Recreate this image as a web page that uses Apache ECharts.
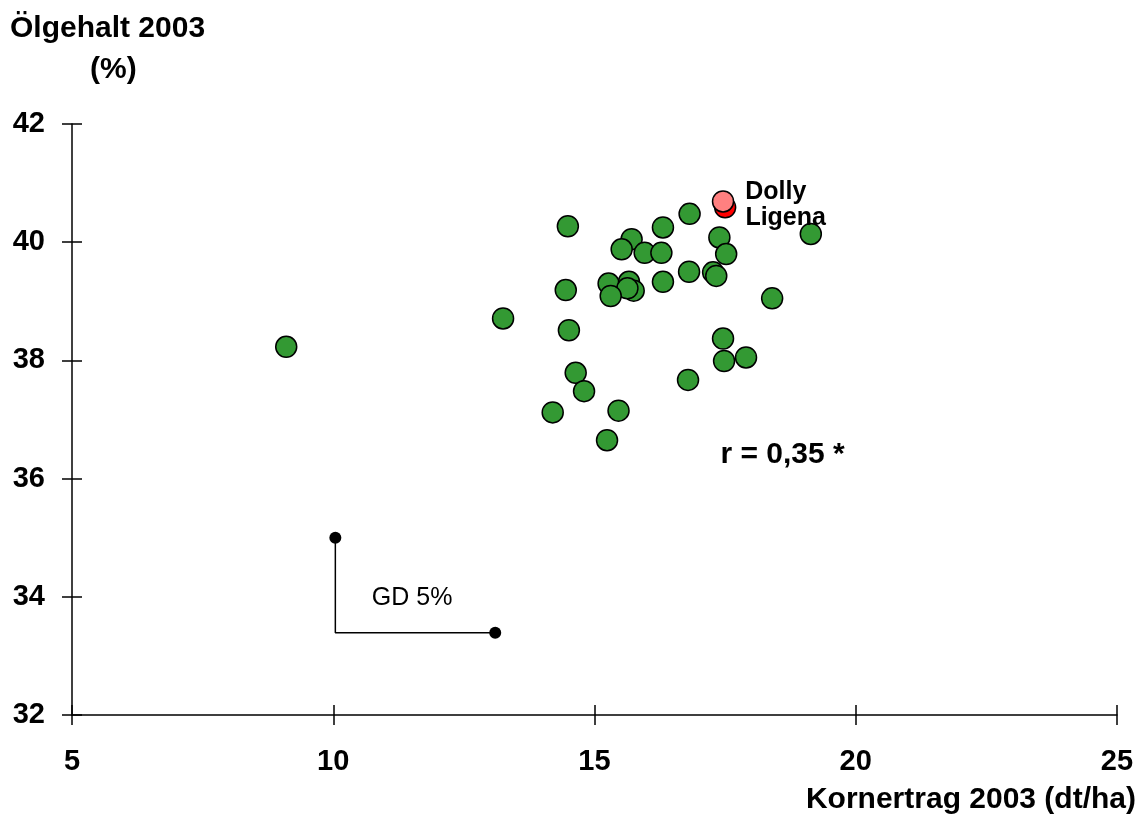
<!DOCTYPE html>
<html>
<head>
<meta charset="utf-8">
<title>Ölgehalt vs. Kornertrag 2003</title>
<script src="https://cdn.jsdelivr.net/npm/echarts@6/dist/echarts.min.js"></script>
<style>
  html, body { margin: 0; padding: 0; background: #fff; }
  #chart { width: 1144px; height: 818px; }
</style>
</head>
<body>
<div id="chart"></div>
<script>
var FONT = 'Arial, "Liberation Sans", sans-serif'

// Sorten: Kornertrag (dt/ha), Ölgehalt (%)
var yieldValues = [14.49, 16.82, 16.31, 19.14, 17.39, 15.71, 15.52, 15.96, 16.28, 17.52,
  16.81, 17.27, 17.33, 16.31, 15.27, 15.66, 15.75, 15.63, 15.31, 14.45,
  13.25, 18.40, 14.51, 17.46, 17.48, 17.90, 14.64, 16.79, 14.80, 14.20,
  15.46, 15.24, 9.10]
var oilValues = [40.27, 40.48, 40.25, 40.14, 40.08, 40.05, 39.88, 39.82, 39.82, 39.80,
  39.50, 39.49, 39.43, 39.33, 39.30, 39.33, 39.18, 39.22, 39.09, 39.19,
  38.71, 39.05, 38.51, 38.37, 37.99, 38.05, 37.79, 37.67, 37.48, 37.12,
  37.15, 36.65, 38.23]

// hervorgehobene Sorten
var highlightNames = ['Ligena', 'Dolly']
var highlightYield = [17.50, 17.46]
var highlightOil = [40.59, 40.69]

// GD 5% Winkel
var gdX = [10.04, 10.04, 13.10]
var gdY = [35.00, 33.39, 33.39]
var gdLabel = 'GD 5%'
var corrLabel = 'r = 0,35 *'

var xTicks = [5, 10, 15, 20, 25]
var yTicks = [32, 34, 36, 38, 40, 42]

var chart = echarts.init(document.getElementById('chart'))

var points = yieldValues.map(function (x, i) { return [x, oilValues[i]] })
var gdLine = gdX.map(function (x, i) { return [x, gdY[i]] })
var gdEnds = [gdLine[0], gdLine[gdLine.length - 1]]

function axisBase(ticks) {
  return {
    type: 'value',
    min: ticks[0],
    max: ticks[ticks.length - 1],
    interval: ticks[1] - ticks[0],
    splitLine: { show: false }
  }
}

var xMain = Object.assign(axisBase(xTicks), {
  position: 'bottom',
  axisLine: { onZero: false, lineStyle: { color: '#000', width: 1.5 } },
  axisTick: { length: 10, lineStyle: { color: '#000', width: 1.5 } },
  axisLabel: { color: '#000', fontFamily: FONT, fontWeight: 'bold', fontSize: 29, margin: 32 }
})
var xInner = Object.assign(axisBase(xTicks), {
  position: 'bottom',
  axisLine: { show: false },
  axisTick: { inside: true, length: 10, lineStyle: { color: '#000', width: 1.5 } },
  axisLabel: { show: false }
})
var yMain = Object.assign(axisBase(yTicks), {
  position: 'left',
  axisLine: { show: true, onZero: false, lineStyle: { color: '#000', width: 1.5 } },
  axisTick: { show: true, length: 10, lineStyle: { color: '#000', width: 1.5 } },
  axisLabel: { color: '#000', fontFamily: FONT, fontWeight: 'bold', fontSize: 29, margin: 27 }
})
var yInner = Object.assign(axisBase(yTicks), {
  position: 'left',
  axisLine: { show: false },
  axisTick: { show: true, inside: true, length: 10, lineStyle: { color: '#000', width: 1.5 } },
  axisLabel: { show: false }
})

var option = {
  animation: false,
  backgroundColor: '#fff',
  grid: { left: 72, right: 27, top: 124, bottom: 103 },
  xAxis: [xMain, xInner],
  yAxis: [yMain, yInner],
  graphic: [
    {
      type: 'text', left: 10, top: 14,
      style: { text: 'Ölgehalt 2003', font: 'bold 30px ' + FONT, fill: '#000' }
    },
    {
      type: 'text', left: 90, top: 55,
      style: { text: '(%)', font: 'bold 30px ' + FONT, fill: '#000' }
    },
    {
      type: 'text', right: 8, top: 785,
      style: { text: 'Kornertrag 2003 (dt/ha)', font: 'bold 30px ' + FONT, fill: '#000' }
    }
  ],
  series: [
    {
      type: 'line',
      data: gdLine,
      showSymbol: false,
      lineStyle: { color: '#000', width: 1.5 },
      z: 2
    },
    {
      type: 'scatter',
      data: gdEnds,
      symbolSize: 12,
      itemStyle: { color: '#000', opacity: 1 },
      z: 3
    },
    {
      type: 'scatter',
      data: points,
      symbolSize: 21,
      itemStyle: { color: '#339933', borderColor: '#000', borderWidth: 1.5, opacity: 1 },
      z: 4
    },
    {
      type: 'scatter',
      data: highlightNames.map(function (n, i) {
        return {
          name: n,
          value: [highlightYield[i], highlightOil[i]],
          itemStyle: { color: n === 'Dolly' ? '#ff8080' : '#ff0000' },
          label: n === 'Dolly' ? { offset: [0, -9], distance: 11 } : { offset: [0, 11], distance: 9 }
        }
      }),
      symbolSize: 21,
      itemStyle: { borderColor: '#000', borderWidth: 1.5, opacity: 1 },
      label: {
        show: true,
        position: 'right',
        formatter: '{b}',
        color: '#000',
        fontFamily: FONT,
        fontWeight: 'bold',
        fontSize: 25
      },
      z: 5
    },
    {
      type: 'scatter',
      data: [
        { value: [11.51, 33.98], name: gdLabel, label: { fontWeight: 'normal', fontSize: 25 } },
        { value: [18.60, 36.40], name: corrLabel, label: { fontWeight: 'bold', fontSize: 30 } }
      ],
      symbolSize: 0,
      silent: true,
      itemStyle: { opacity: 1 },
      label: {
        show: true,
        position: 'inside',
        formatter: '{b}',
        color: '#000',
        opacity: 1,
        fontFamily: FONT
      },
      z: 6
    }
  ]
}

chart.setOption(option)
</script>
</body>
</html>
